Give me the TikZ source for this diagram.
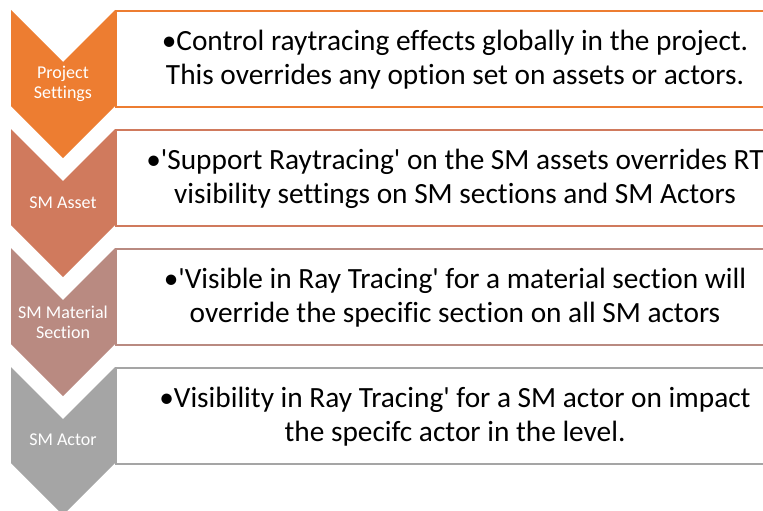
\documentclass[tikz,border=0pt]{standalone}
\usepackage{fontspec}
\setmainfont[Ligatures={NoCommon}]{Carlito}
\definecolor{rtorange}{RGB}{237,125,49}
\definecolor{rtsalmon}{RGB}{208,122,93}
\definecolor{rtrose}{RGB}{185,138,129}
\definecolor{rtgray}{RGB}{165,165,165}
\usetikzlibrary{positioning}

\begin{document}
\begin{tikzpicture}[x=0.75pt,y=-0.75pt]
  \useasboundingbox (0,0) rectangle (763,510);

  % Level 1: Project Settings
  \node[draw=rtorange, line width=1.5pt, fill=white, minimum width=490pt, minimum height=72pt, anchor=north west, inner sep=0pt] (b1) at (115,10) {};
  \fill[rtorange] (11,10) -- (63,62) -- (115,10) -- (115,106) -- (63,158) -- (11,106) -- cycle;
  \node[text=white, align=center, font=\fontsize{13.5}{15}\selectfont] (c1) at (63,84) {Project\\Settings};
  \node[align=center, font=\fontsize{22}{25.5}\selectfont] (t1) at (455,60) {\textbullet Control raytracing effects globally in the project.\\This overrides any option set on assets or actors.};

  % Level 2: SM Asset
  \node[draw=rtsalmon, line width=1.5pt, fill=white, minimum width=490pt, minimum height=72pt, anchor=north west, inner sep=0pt] (b2) at (115,129) {};
  \fill[rtsalmon] (11,129) -- (63,181) -- (115,129) -- (115,225) -- (63,277) -- (11,225) -- cycle;
  \node[text=white, align=center, font=\fontsize{13.5}{15}\selectfont] (c2) at (63,203) {SM Asset};
  \node[align=center, font=\fontsize{22}{25.5}\selectfont] (t2) at (455,179) {\textbullet\textquotesingle Support Raytracing\textquotesingle{} on the SM assets overrides RT\\visibility settings on SM sections and SM Actors};

  % Level 3: SM Material Section
  \node[draw=rtrose, line width=1.5pt, fill=white, minimum width=490pt, minimum height=72pt, anchor=north west, inner sep=0pt] (b3) at (115,248) {};
  \fill[rtrose] (11,248) -- (63,300) -- (115,248) -- (115,344) -- (63,396) -- (11,344) -- cycle;
  \node[text=white, align=center, font=\fontsize{13.5}{15}\selectfont] (c3) at (63,322) {SM Material\\Section};
  \node[align=center, font=\fontsize{22}{25.5}\selectfont] (t3) at (455,298) {\textbullet\textquotesingle Visible in Ray Tracing\textquotesingle{} for a material section will\\override the specific section on all SM actors};

  % Level 4: SM Actor
  \node[draw=rtgray, line width=1.5pt, fill=white, minimum width=490pt, minimum height=72pt, anchor=north west, inner sep=0pt] (b4) at (115,367) {};
  \fill[rtgray] (11,367) -- (63,419) -- (115,367) -- (115,463) -- (63,515) -- (11,463) -- cycle;
  \node[text=white, align=center, font=\fontsize{13.5}{15}\selectfont] (c4) at (63,440) {SM Actor};
  \node[align=center, font=\fontsize{22}{25.5}\selectfont] (t4) at (455,417) {\textbullet Visibility in Ray Tracing\textquotesingle{} for a SM actor on impact\\the specifc actor in the level.};
\end{tikzpicture}
\end{document}
